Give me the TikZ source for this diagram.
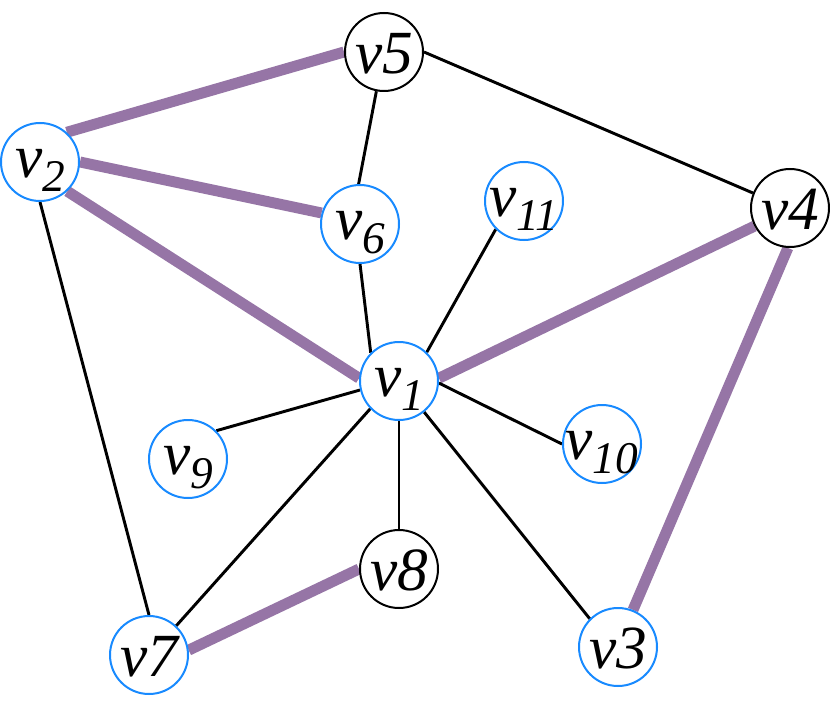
\documentclass[tikz,border=0pt]{standalone}
\usepackage{fontspec}
\setmainfont{Liberation Serif}
\usepackage{tikz}
\usetikzlibrary{backgrounds}
\definecolor{vtxBlue}{RGB}{24, 138, 255}
\definecolor{pathPurple}{RGB}{150, 117, 166}
\newcommand{\vname}[1]{\makebox[0pt]{\raisebox{-0.35em}[0pt][0pt]{v#1}}}
\newcommand{\vsub}[1]{\makebox[0pt]{\raisebox{-0.25em}[0pt][0pt]{v\raisebox{-0.23em}{\fontsize{34}{36}\selectfont #1}}}}
\begin{document}
\begin{tikzpicture}[
    x=0.75pt, y=-0.75pt,
    vtx/.style={circle, draw=black, fill=white, line width=1.5pt,
                minimum size=58.5pt, inner sep=0pt,
                font=\fontsize{46}{50}\selectfont\itshape},
    bluevtx/.style={vtx, draw=vtxBlue},
    edge/.style={line width=2.2pt, black},
    hedge/.style={line width=8.2pt, pathPurple},
  ]
    \useasboundingbox (0,0) rectangle (830,709);

    % Vertices
    \node[bluevtx] (V1) at (399,381) {\vsub{1}};
    \node[bluevtx] (V2) at (40,162) {\vsub{2}};
    \node[bluevtx] (V3) at (618,647) {\vname{3}};
    \node[vtx] (V4) at (790,208) {\vname{4}};
    \node[vtx] (V5) at (384,52) {\vname{5}};
    \node[bluevtx] (V6) at (360,224) {\vsub{6}};
    \node[bluevtx] (V7) at (149,655) {\vname{7}};
    \node[vtx] (V8) at (399,569) {\vname{8}};
    \node[bluevtx] (V9) at (188,459) {\vsub{9}};
    \node[bluevtx] (V10) at (602,444) {\vsub{10}};
    \node[bluevtx] (V11) at (524,201) {\vsub{11}};

    \begin{scope}[on background layer]
      % Highlighted edges
      \draw[hedge] (V2.48) -- (V5.180);
      \draw[hedge] (V2.0) -- (V6.164);
      \draw[hedge] (V2.-47) -- (V1.176);
      \draw[hedge] (V1.4) -- (V4.207);
      \draw[hedge] (V4.-93) -- (V3.68);
      \draw[hedge] (V7.7) -- (V8.180);

      % Other edges
      \draw[edge] (V5.-101) -- (V6.92);
      \draw[edge] (V5.0) -- (V4.158);
      \draw[edge] (V6.-90) -- (V1.135);
      \draw[edge] (V11.-135) -- (V1.46);
      \draw[edge] (V2.-90) -- (V7.90);
      \draw[edge] (V1.193) -- (V9.45);
      \draw[edge] (V1.-3) -- (V10.180);
      \draw[edge] (V1.-90) -- (V8.90);
      \draw[edge] (V1.224) -- (V7.47);
      \draw[edge] (V1.-51) -- (V3.135);
    \end{scope}
  \end{tikzpicture}
\end{document}
